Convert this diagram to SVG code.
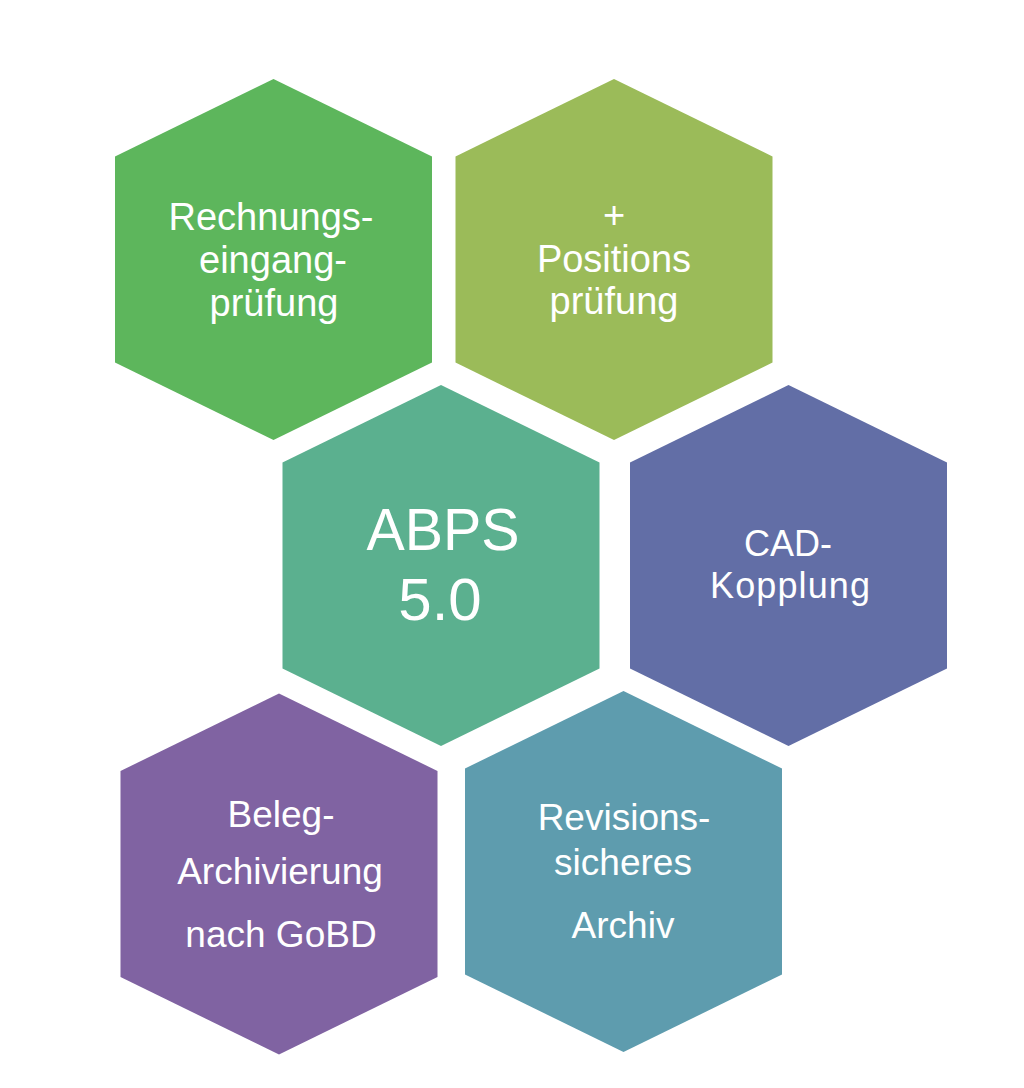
<svg xmlns="http://www.w3.org/2000/svg" xmlns:xlink="http://www.w3.org/1999/xlink" width="1024" height="1088" viewBox="0 0 1024 1088">
  <style>
    .lbl { fill: #ffffff; text-anchor: middle; font-family: "Liberation Sans", Arial, sans-serif; }
    .f1 { font-size: 38px; }
    .f3 { font-size: 60px; }
    .f4 { font-size: 36px; }
    .f5 { font-size: 37px; }
    .f6 { font-size: 37px; }
  </style>
  <defs>
    <polygon id="hex" points="0,-180.5 158.5,-103 158.5,103 0,180.5 -158.5,103 -158.5,-103"/>
  </defs>
  <rect x="0" y="0" width="1024" height="1088" fill="#ffffff"/>
  <g id="connectors"></g>
  <g id="node-rechnung">
    <use xlink:href="#hex" href="#hex" transform="translate(273.5,259.5)" fill="#5DB65C"/>
    <text class="lbl f1" x="271" y="230">Rechnungs-</text>
    <text class="lbl f1" x="273" y="273">eingang-</text>
    <text class="lbl f1" x="274" y="316">prüfung</text>
  </g>
  <g id="node-position">
    <use xlink:href="#hex" href="#hex" transform="translate(614,259.5)" fill="#9BBB59"/>
    <text class="lbl f1" x="614" y="228">+</text>
    <text class="lbl f1" x="614" y="272">Positions</text>
    <text class="lbl f1" x="614" y="314">prüfung</text>
  </g>
  <g id="node-abps">
    <use xlink:href="#hex" href="#hex" transform="translate(441,565.5)" fill="#5BB08F"/>
    <text class="lbl f3" x="443" y="550" textLength="153" lengthAdjust="spacingAndGlyphs">ABPS</text>
    <text class="lbl f3" x="440" y="620">5.0</text>
  </g>
  <g id="node-cad">
    <use xlink:href="#hex" href="#hex" transform="translate(788.5,565.5)" fill="#626EA6"/>
    <text class="lbl f4" x="788" y="556">CAD-</text>
    <text class="lbl f4" x="790" y="598" textLength="160" lengthAdjust="spacing">Kopplung</text>
  </g>
  <g id="node-beleg">
    <use xlink:href="#hex" href="#hex" transform="translate(279,874)" fill="#8063A2"/>
    <text class="lbl f5" x="281" y="827">Beleg-</text>
    <text class="lbl f5" x="280" y="884">Archivierung</text>
    <text class="lbl f5" x="281" y="947">nach GoBD</text>
  </g>
  <g id="node-revision">
    <use xlink:href="#hex" href="#hex" transform="translate(623.5,871.5)" fill="#5E9CAE"/>
    <text class="lbl f6" x="624" y="830">Revisions-</text>
    <text class="lbl f6" x="623" y="875">sicheres</text>
    <text class="lbl f6" x="623" y="938">Archiv</text>
  </g>
</svg>
